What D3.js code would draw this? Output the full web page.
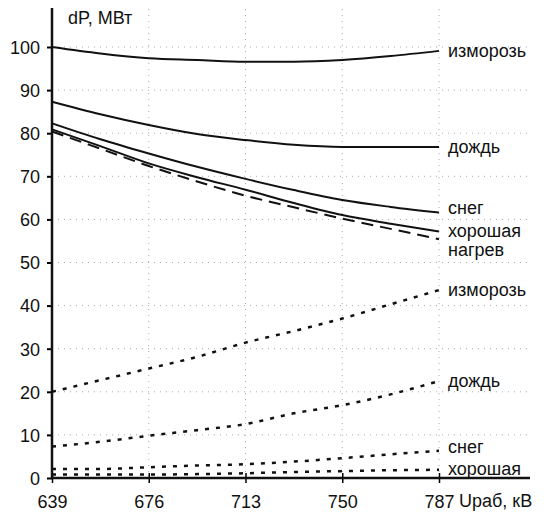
<!DOCTYPE html>
<html>
<head>
<meta charset="utf-8">
<script src="https://cdn.jsdelivr.net/npm/d3@7"></script>
<style>
  body { margin: 0; background: #fff; }
  text { font-family: "Liberation Sans", Arial, sans-serif; fill: #111; }
</style>
</head>
<body>
<svg width="546" height="518"></svg>
<script>
// напряжение, кВ
const voltages = [639, 657.5, 676, 694.5, 713, 731.5, 750, 768.5, 787];
const xTicks = [639, 676, 713, 750, 787];
const yTicks = [0, 10, 20, 30, 40, 50, 60, 70, 80, 90, 100];

// сплошные линии
const izmorozSolid = [100, 98.5, 97.4, 97.0, 96.6, 96.6, 97.0, 97.9, 99.1];
const dozhdSolid = [87.3, 84.4, 81.9, 79.8, 78.4, 77.3, 76.8, 76.8, 76.8];
const snegSolid = [82.3, 78.6, 75.3, 72.2, 69.4, 66.8, 64.5, 62.9, 61.6];
const horoshSolid = [80.9, 77.0, 73.0, 69.8, 66.9, 63.8, 61.0, 59.0, 57.2];
// пунктир - нагрев
const nagrev = [80.4, 76.4, 72.4, 68.8, 65.5, 62.8, 60.2, 57.8, 55.4];
// точечные линии
const izmorozDot = [20.0, 22.7, 25.4, 28.1, 31.4, 34.1, 37.0, 40.3, 43.6];
const dozhdDot = [7.3, 8.4, 9.8, 11.1, 12.5, 15.0, 16.9, 19.4, 22.5];
const snegDot = [2.1, 2.1, 2.5, 2.9, 3.2, 3.8, 4.6, 5.5, 6.3];
const horoshDot = [0.8, 0.8, 0.8, 0.9, 1.1, 1.4, 1.6, 1.8, 1.9];

const series = [
  {name: 'изморозь', values: izmorozSolid, type: 'solid', dy: 0},
  {name: 'дождь', values: dozhdSolid, type: 'solid', dy: 0},
  {name: 'снег', values: snegSolid, type: 'solid', dy: -5},
  {name: 'хорошая', values: horoshSolid, type: 'solid', dy: -1},
  {name: 'нагрев', values: nagrev, type: 'dash', dy: 10},
  {name: 'изморозь', values: izmorozDot, type: 'dot', dy: 0},
  {name: 'дождь', values: dozhdDot, type: 'dot', dy: 0},
  {name: 'снег', values: snegDot, type: 'dot', dy: -4},
  {name: 'хорошая', values: horoshDot, type: 'dot', dy: -1}
];

const svg = d3.select('svg');
const x = d3.scaleLinear().domain([639, 787]).range([52, 439]);
const y = d3.scaleLinear().domain([0, 100]).range([478, 47]);
const rightEdge = 530, topEdge = 8;

//сетка
const grid = svg.append('g').attr('stroke', '#aaa').attr('stroke-width', 1).attr('stroke-dasharray', '1,5');
grid.selectAll('.h').data(yTicks.slice(1)).join('line')
  .attr('x1', x(639)).attr('x2', rightEdge)
  .attr('y1', d => y(d)).attr('y2', d => y(d));
grid.selectAll('.v').data(xTicks.slice(1)).join('line')
  .attr('x1', d => x(d)).attr('x2', d => x(d))
  .attr('y1', y(0)).attr('y2', topEdge);

//оси
const yAxis = svg.append('g').attr('transform', `translate(${x(639)},0)`)
  .call(d3.axisLeft(y).tickValues(yTicks).tickSize(5).tickPadding(7));
yAxis.select('.domain').remove();
yAxis.selectAll('text').style('font-size', '18px').attr('dy', '0.35em');
yAxis.selectAll('line').attr('stroke-width', 2);

const xAxis = svg.append('g').attr('transform', `translate(0,${y(0)})`)
  .call(d3.axisBottom(x).tickValues(xTicks).tickSize(5).tickPadding(12));
xAxis.select('.domain').remove();
xAxis.selectAll('line').attr('y1', -5).attr('stroke-width', 1.5);
xAxis.selectAll('text').style('font-size', '18px');

svg.append('line').attr('x1', x(639)).attr('x2', x(639)).attr('y1', y(0) + 1).attr('y2', topEdge)
  .attr('stroke', '#111').attr('stroke-width', 2.5);
svg.append('line').attr('x1', x(639) - 1).attr('x2', rightEdge).attr('y1', y(0)).attr('y2', y(0))
  .attr('stroke', '#111').attr('stroke-width', 2.5);

svg.append('text').attr('x', 68).attr('y', 24).style('font-size', '18px').text('dP, МВт');
svg.append('text').attr('x', 459).attr('y', 507).style('font-size', '18px').text('Uраб, кВ');

//линии
const line = d3.line()
  .x((d, i) => x(voltages[i]))
  .y(d => y(d))
  .curve(d3.curveMonotoneX);

const dashes = {solid: null, dash: '12,7', dot: '4,7'};
svg.append('g').selectAll('path').data(series).join('path')
  .attr('d', d => line(d.values))
  .attr('fill', 'none')
  .attr('stroke', '#111')
  .attr('stroke-width', d => d.type == 'dot' ? 2.5 : 2)
  .attr('stroke-dasharray', d => dashes[d.type]);

svg.append('g').selectAll('text').data(series).join('text')
  .attr('x', x(787) + 9)
  .attr('y', d => y(d.values[d.values.length - 1]) + d.dy)
  .attr('dy', '0.35em')
  .style('font-size', '18px')
  .text(d => d.name);
</script>
</body>
</html>
